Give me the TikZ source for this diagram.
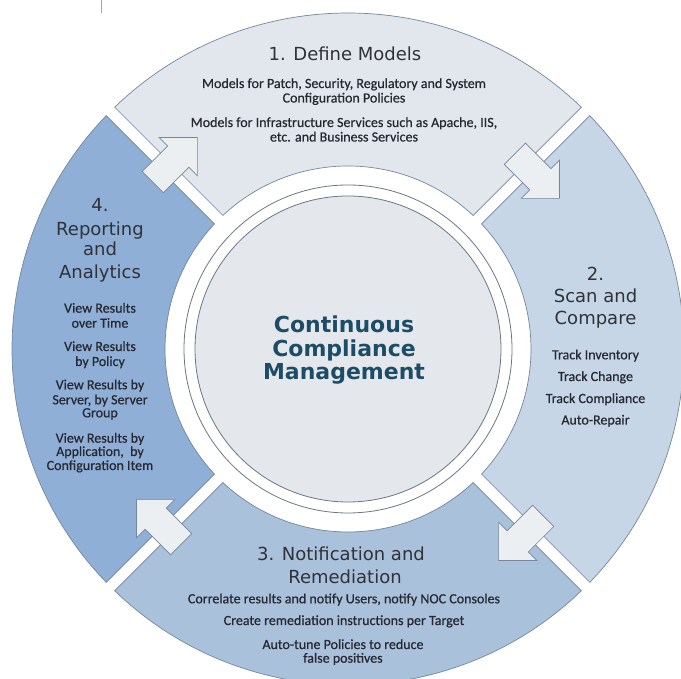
\documentclass[tikz,border=0pt]{standalone}
\usepackage{fontspec}
\setmainfont{Carlito}
\newfontfamily\bodyfont{Carlito}[FakeBold=0.6]
\newfontfamily\titlefont{DejaVu Sans}
\definecolor{qone}{HTML}{E1E7EC}
\definecolor{qtwo}{HTML}{C6D6E6}
\definecolor{qthree}{HTML}{A9C1DB}
\definecolor{qfour}{HTML}{8FAFD6}
\definecolor{innerfill}{HTML}{E4E8EC}
\definecolor{arrowfill}{HTML}{ECEFF2}
\definecolor{edgecol}{HTML}{74879A}
\definecolor{ringcol}{HTML}{6C7682}
\definecolor{titlecol}{HTML}{30323A}
\definecolor{bodycol}{HTML}{262833}
\definecolor{ctrcol}{HTML}{1D4D66}
\def\rout{336}
\def\rin{183}
\def\dout{1.023}
\def\din{1.879}
\newcommand\myquad[3]{%
  \filldraw[#3] ({#1+\dout}:\rout) arc[start angle={#1+\dout}, end angle={#2-\dout}, radius=\rout]
    -- ({#2-\din}:\rin) arc[start angle={#2-\din}, end angle={#1+\din}, radius=\rin] -- cycle;}
\newcommand\myarrow[1]{%
  \begin{scope}[shift={(#1:256)}, rotate={#1-90}]
    \filldraw[arrowshape] (-20,-15) -- (16,-15) -- (16,-27) -- (43,0) -- (16,27) -- (16,15) -- (-20,15) -- cycle;
  \end{scope}}
\tikzset{
  quadline/.style={draw=edgecol, line width=0.7pt},
  arrowshape/.style={fill=arrowfill, draw=edgecol, line width=0.7pt, line join=miter},
  title/.style={font=\titlefont\fontsize{18}{22}\selectfont, text=titlecol, anchor=base, inner sep=0pt},
  body/.style={font=\bodyfont\fontsize{14}{16}\selectfont, text=bodycol, anchor=base, inner sep=0pt},
  ctr/.style={font=\titlefont\bfseries\fontsize{22}{24}\selectfont, text=ctrcol, anchor=base, inner sep=0pt}
}
\begin{document}
\begin{tikzpicture}[x=1pt,y=1pt]
\useasboundingbox (0,0) rectangle (681,679);
\clip (0,0) rectangle (681,679);
\fill[white] (0,0) rectangle (681,679);
\draw[gray!70, line width=0.8pt] (101.5,679) -- (101.5,666);
\begin{scope}[shift={(348,330)}]
  \myquad{45}{135}{quadline, fill=qone}
  \myquad{-45}{45}{quadline, fill=qtwo}
  \myquad{-135}{-45}{quadline, fill=qthree}
  \myquad{135}{225}{quadline, fill=qfour}
  \draw[ringcol, line width=0.8pt, fill=white] (0,0) circle (164);
  \filldraw[draw=ringcol, line width=0.8pt, fill=innerfill] (0,0) circle (153);
  \myarrow{135}
  \myarrow{45}
  \myarrow{-45}
  \myarrow{225}
\end{scope}
% Quadrant 1
\node[title] (t1) at (345,618) {1. Define Models};
\node[body] (b1a) at (344,591) {Models for Patch, Security, Regulatory and System};
\node[body] (b1b) at (344,576.5) {Configuration Policies};
\node[body] (b1c) at (344,552) {Models for Infrastructure Services such as Apache, IIS,};
\node[body] (b1d) at (344,537.5) {etc. and Business Services};
% Quadrant 2
\node[title] (t2a) at (595.5,398) {2.};
\node[title] (t2b) at (595.5,376.3) {Scan and};
\node[title] (t2c) at (595.5,354) {Compare};
\node[body] (b2a) at (595.5,319.7) {Track Inventory};
\node[body] (b2b) at (595.5,298) {Track Change};
\node[body] (b2c) at (595.5,276) {Track Compliance};
\node[body] (b2d) at (595.5,254.5) {Auto-Repair};
% Quadrant 3
\node[title] (t3a) at (341,118.3) {3. Notification and};
\node[title] (t3b) at (345,95.7) {Remediation};
\node[body] (b3a) at (344,75.7) {Correlate results and notify Users, notify NOC Consoles};
\node[body] (b3b) at (344,54) {Create remediation instructions per Target};
\node[body] (b3c) at (343,30) {Auto-tune Policies to reduce};
\node[body] (b3d) at (343,16.3) {false positives};
% Quadrant 4
\node[title] (t4a) at (100,467.3) {4.};
\node[title] (t4b) at (100,443.7) {Reporting};
\node[title] (t4c) at (100,423) {and};
\node[title] (t4d) at (100,400.7) {Analytics};
\node[body] (b4a) at (100,366.3) {View Results};
\node[body] (b4b) at (100,351.3) {over Time};
\node[body] (b4c) at (100,328) {View Results};
\node[body] (b4d) at (100,313) {by Policy};
\node[body] (b4e) at (100,289.7) {View Results by};
\node[body] (b4f) at (100,274.7) {Server, by Server};
\node[body] (b4g) at (100,261.7) {Group};
\node[body] (b4h) at (100,236.3) {View Results by};
\node[body] (b4i) at (100,223) {Application,\ \ by};
\node[body] (b4j) at (100,209) {Configuration Item};
% Centre
\node[ctr] (c1) at (344,346.3) {Continuous};
\node[ctr] (c2) at (344,322.3) {Compliance};
\node[ctr] (c3) at (344,299) {Management};
\end{tikzpicture}
\end{document}
